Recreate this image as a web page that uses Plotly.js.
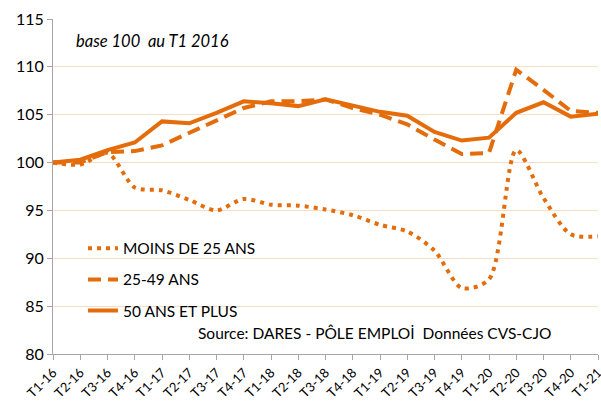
<!DOCTYPE html>
<html>
<head>
<meta charset="utf-8">
<script src="https://cdn.plot.ly/plotly-3.0.1.min.js"></script>
<style>html,body{margin:0;padding:0;background:#fff;} #chart{width:601px;height:403px;}</style>
</head>
<body>
<div id="chart"></div>
<script>
const quarters = ["T1-16","T2-16","T3-16","T4-16","T1-17","T2-17","T3-17","T4-17","T1-18","T2-18","T3-18","T4-18","T1-19","T2-19","T3-19","T4-19","T1-20","T2-20","T3-20","T4-20","T1-21"];
const moins25 = [100.0, 99.8, 101.0, 97.4, 97.1, 96.1, 95.0, 96.2, 95.6, 95.5, 95.1, 94.5, 93.5, 92.8, 90.8, 86.9, 87.8, 101.3, 96.3, 92.5, 92.3];
const ans25_49 = [100.0, 100.0, 101.1, 101.2, 101.8, 103.1, 104.5, 105.7, 106.4, 106.4, 106.6, 105.7, 105.0, 104.0, 102.4, 100.9, 101.0, 109.7, 107.6, 105.4, 105.2];
const plus50 = [100.0, 100.3, 101.3, 102.1, 104.3, 104.1, 105.2, 106.4, 106.2, 105.9, 106.6, 105.9, 105.3, 104.9, 103.2, 102.3, 102.6, 105.2, 106.3, 104.8, 105.1];
const seriesNames = ["MOINS DE 25 ANS", "25-49 ANS", "50 ANS ET PLUS"];
const yTicks = [80, 85, 90, 95, 100, 105, 110, 115];

const orange = "#E46C0A";
const font = "Lato, 'Open Sans', sans-serif";

const traces = [
  {x: quarters, y: moins25, name: seriesNames[0], type: "scatter", mode: "lines",
   line: {color: orange, width: 4, dash: "4px,5px", shape: "spline", smoothing: 0.8}, legendgroup: "a", cliponaxis: false},
  {x: quarters, y: ans25_49, name: seriesNames[1], type: "scatter", mode: "lines",
   line: {color: orange, width: 4, dash: "13px,7px"}, legendgroup: "b", cliponaxis: false},
  {x: quarters, y: plus50, name: seriesNames[2], type: "scatter", mode: "lines",
   line: {color: orange, width: 4}, legendgroup: "c", cliponaxis: false}
];

const layout = {
  width: 601, height: 403,
  margin: {l: 53, r: 3, t: 19, b: 49},
  paper_bgcolor: "#fff", plot_bgcolor: "#fff",
  font: {family: font, color: "#000"},
  showlegend: true,
  legend: {x: 0.055, y: 0.365, xanchor: "left", yanchor: "top", bgcolor: "rgba(0,0,0,0)",
           font: {family: font, size: 15.5, color: "#000"}, traceorder: "grouped", tracegroupgap: 8},
  xaxis: {type: "category", range: [0, quarters.length - 1], tickangle: -45,
          tickfont: {family: font, size: 13, color: "#000"},
          showline: true, linecolor: "#A6A6A6", linewidth: 1,
          ticks: "outside", ticklen: 5, tickcolor: "#A6A6A6",
          showgrid: false, zeroline: false, fixedrange: true},
  yaxis: {range: [80, 115], tickvals: yTicks, ticktext: yTicks.map(String),
          tickfont: {family: font, size: 16, color: "#000"},
          showline: true, linecolor: "#A6A6A6", linewidth: 1,
          ticks: "outside", ticklen: 5, tickcolor: "#A6A6A6",
          showgrid: true, gridcolor: "#FBDCC4", gridwidth: 1, zeroline: false, fixedrange: true},
  annotations: [
    {xref: "paper", yref: "paper", x: (74-53)/545, y: (354-41)/335, xanchor: "left", yanchor: "middle",
     text: "<i>base 100  au T1 2016</i>", showarrow: false, font: {family: font, size: 16.5, color: "#000"}},
    {xref: "paper", yref: "paper", x: (374-53)/545, y: (354-333)/335, xanchor: "center", yanchor: "middle",
     text: "Source: DARES - PÔLE EMPLOİ  Données CVS-CJO", showarrow: false, font: {family: font, size: 15.5, color: "#000"}}
  ]
};

Plotly.newPlot("chart", traces, layout, {displayModeBar: false, staticPlot: true});
</script>
</body>
</html>
